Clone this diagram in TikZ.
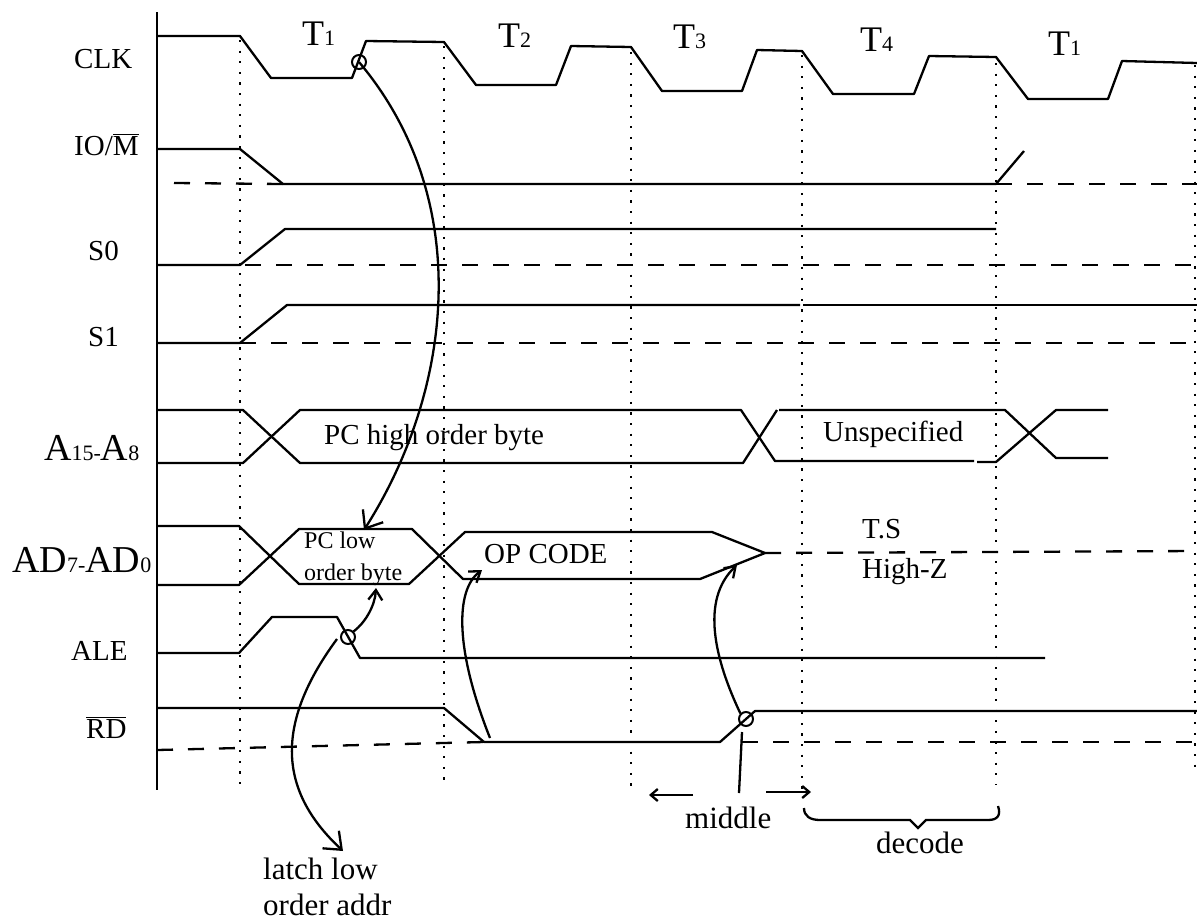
\documentclass[tikz,border=0pt]{standalone}
\usepackage{fontspec}
\setmainfont{Liberation Serif}
\usetikzlibrary{arrows.meta}
\newcommand{\smalldigit}[1]{{\fontsize{22}{26}\selectfont #1}}
\begin{document}
\begin{tikzpicture}[
    x=1pt, y=-1pt,
    wire/.style={line width=2.3pt, line join=round},
    dashwire/.style={line width=2.3pt, dash pattern=on 16pt off 15pt},
    tickline/.style={line width=2.2pt, dash pattern=on 2.2pt off 8.4pt},
    curveline/.style={line width=2.3pt},
    arrow/.style={curveline, -{Straight Barb[length=15pt,width=24pt,line width=2.3pt]}},
    smallarrow/.style={curveline, -{Straight Barb[length=10pt,width=14pt,line width=2.3pt]}},
    shortarrow/.style={curveline, -{Straight Barb[length=7pt,width=12pt,line width=2.3pt]}},
    ringmark/.style={circle, draw, line width=2pt, inner sep=0pt, minimum size=14pt},
    signal/.style={font=\fontsize{29}{33}\selectfont, inner sep=0pt, anchor=base west},
    bigsignal/.style={font=\fontsize{38}{42}\selectfont, inner sep=0pt, anchor=base west},
    period/.style={font=\fontsize{36}{40}\selectfont, inner sep=0pt, anchor=base west},
    note/.style={font=\fontsize{31}{35}\selectfont, inner sep=0pt, anchor=base west},
    tinynote/.style={font=\fontsize{24}{28}\selectfont, inner sep=0pt, anchor=base west}
]
    \useasboundingbox (0,0) rectangle (1197,922);

    % dotted period lines
    \foreach \tx/\ty/\tend in {240/40/790, 444/46/785, 631/52/790, 802/55/790, 996/63/785, 1195/65/773}
        \draw[tickline] (\tx,\ty) -- (\tx,\tend);

    % axis
    \draw[wire] (157,12) -- (157,790);

    % CLK
    \draw[wire] (157,36) -- (240,36) -- (271,78) -- (352,78) -- (366,41) -- (444,42) -- (476,85) -- (556,85)
        -- (571,46) -- (631,47) -- (662,91) -- (742,91) -- (757,50) -- (802,51) -- (833,94) -- (914,94)
        -- (929,56) -- (996,57) -- (1028,99) -- (1108,99) -- (1122,61) -- (1197,63);

    % IO/M
    \draw[wire] (157,149) -- (240,149) -- (283,184) -- (996,184) -- (1024,151);
    \draw[dashwire] (174,183) -- (283,184);
    \draw[dashwire] (996,184) -- (1197,184);

    % S0 and S1
    \draw[wire] (157,265) -- (240,265) -- (285,229) -- (996,229);
    \draw[dashwire] (245,265) -- (1197,265);
    \draw[wire] (157,343) -- (240,343) -- (287,305) -- (800,305);
    \draw[wire] (803,305) -- (1197,305);
    \draw[dashwire] (240,343) -- (1197,343);

    % A15-A8
    \draw[wire] (157,410) -- (243,410) -- (300,463) -- (743,463) -- (777,410);
    \draw[wire] (779,410) -- (1005,410) -- (1056,458) -- (1108,458);
    \draw[wire] (157,463) -- (243,463) -- (300,410) -- (741,410) -- (775,461) -- (974,461);
    \draw[wire] (977,462) -- (996,462) -- (1056,410) -- (1108,410);

    % AD7-AD0
    \draw[wire] (157,526) -- (239,526) -- (299,584) -- (409,584) -- (465,532) -- (712,532) -- (765,553);
    \draw[wire] (157,585) -- (239,585) -- (299,529) -- (412,529) -- (463,579) -- (700,579) -- (765,553);
    \draw[dashwire] (765,553) -- (1197,551);

    % ALE
    \draw[wire] (157,653) -- (239,653) -- (272,617) -- (337,617) -- (360,658) -- (1045,658);

    % RD
    \draw[wire] (157,708) -- (444,708) -- (484,742) -- (720,742) -- (755,711) -- (1197,711);
    \draw[dashwire] (157,750) -- (484,742);
    \draw[dashwire] (742,742) -- (1197,742);

    % signal names
    \node[signal] (clk) at (74,68) {CLK};
    \node[signal] (iom) at (74,155) {IO/$\overline{\mbox{M}}$};
    \node[signal] (szero) at (88,260) {S0};
    \node[signal] (sone) at (88,346) {S1};
    \node[bigsignal] (addrhigh) at (44,460) {A\smalldigit{15-}A\smalldigit{8}};
    \node[bigsignal] (addrlow) at (12,572) {AD\smalldigit{7-}AD\smalldigit{0}};
    \node[signal] (ale) at (71,660) {ALE};
    \node[signal] (rd) at (86,738) {$\overline{\mbox{RD}}$};

    % T states
    \node[period] (tone) at (302,45) {T\smalldigit{1}};
    \node[period] (ttwo) at (498,47) {T\smalldigit{2}};
    \node[period] (tthree) at (673,48) {T\smalldigit{3}};
    \node[period] (tfour) at (860,51) {T\smalldigit{4}};
    \node[period] (tnext) at (1048,55) {T\smalldigit{1}};

    % bus contents
    \node[signal] (pchigh) at (324,444) {PC high order byte};
    \node[signal] (unspec) at (823,441) {Unspecified};
    \node[tinynote] (pclowa) at (304,548) {PC low};
    \node[tinynote] (pclowb) at (304,580) {order byte};
    \node[signal] (opcode) at (484,563) {OP CODE};
    \node[signal] (ts) at (862,538) {T.S};
    \node[signal] (highz) at (862,578) {High-Z};
    \node[note] (middle) at (685,828) {middle};
    \node[note] (decode) at (876,853) {decode};
    \node[note] (latcha) at (263,879) {latch low};
    \node[note] (latchb) at (263,915) {order addr};

    % sampling marks
    \node[ringmark] (clkmark) at (359,62) {};
    \node[ringmark] (alemark) at (348,637) {};
    \node[ringmark] (rdmark) at (746,719) {};

    % free ends of the arrows
    \coordinate (adtop) at (364,530);
    \coordinate (adbottom) at (376,588);
    \coordinate (opcodetip) at (482,570);
    \coordinate (optip) at (737,565);
    \coordinate (rdlow) at (490,738);
    \coordinate (latchstart) at (337,639);
    \coordinate (latchtip) at (343,851);
    \coordinate (middletop) at (742,732);
    \coordinate (middlefoot) at (739,793);
    \coordinate (leftstart) at (693,795);
    \coordinate (middleleft) at (649,795);
    \coordinate (rightstart) at (766,792);
    \coordinate (middleright) at (811,792);

    \draw[arrow] (clkmark.center) .. controls (475,200) and (453,390) .. (adtop);
    \draw[smallarrow] (alemark.north east) .. controls (366,622) and (375,605) .. (adbottom);
    \draw[arrow] (latchstart) .. controls (270,730) and (283,795) .. (latchtip);
    \draw[smallarrow] (rdlow) .. controls (455,650) and (455,590) .. (opcodetip);
    \draw[smallarrow] (rdmark.north west) .. controls (715,660) and (700,600) .. (optip);

    % middle and decode
    \draw[curveline] (middletop) -- (middlefoot);
    \draw[shortarrow] (leftstart) -- (middleleft);
    \draw[shortarrow] (rightstart) -- (middleright);
    \draw[curveline] (804,808) .. controls (804,816) and (810,820) .. (820,820) -- (910,820) -- (918,828) -- (926,820)
        -- (988,820) .. controls (998,820) and (1001,815) .. (998,806);
\end{tikzpicture}
\end{document}
